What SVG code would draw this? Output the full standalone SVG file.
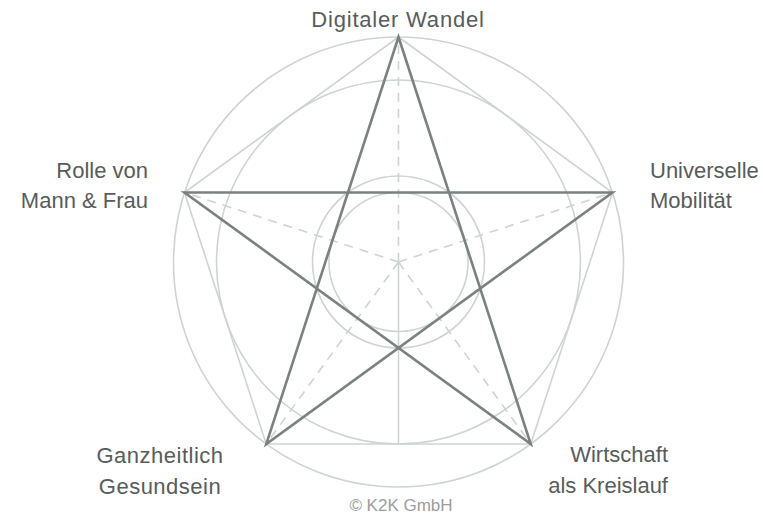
<svg xmlns="http://www.w3.org/2000/svg" width="763" height="517" viewBox="0 0 763 517">
<style>
.guide{fill:none;stroke:#cfd3d3;stroke-width:1.6}
.dash{fill:none;stroke:#cfd3d3;stroke-width:1.6;stroke-dasharray:9 7}
.star{fill:none;stroke:#7b8181;stroke-width:2.6;stroke-linejoin:miter}
.lbl{font-family:"Liberation Sans",Arial,sans-serif;font-size:22px;fill:#575c5c}
.copy{font-family:"Liberation Sans",Arial,sans-serif;font-size:17px;fill:#9a9e9e}
</style>
<rect width="763" height="517" fill="#ffffff"/>
<g id="connectors">
<circle class="guide" cx="398.5" cy="262" r="225"/>
<circle class="guide" cx="398.5" cy="262" r="182"/>
<circle class="guide" cx="398.5" cy="262" r="86"/>
<circle class="guide" cx="398.5" cy="262" r="69.5"/>
<polygon class="guide" points="398.5,37 612.5,192.5 530.75,444 266.25,444 184.5,192.5"/>
<line class="guide" x1="398.5" y1="262" x2="398.5" y2="444"/>
<line class="dash" x1="398.5" y1="262" x2="398.5" y2="37"/>
<line class="dash" x1="398.5" y1="262" x2="612.5" y2="192.5"/>
<line class="dash" x1="398.5" y1="262" x2="184.5" y2="192.5"/>
<line class="dash" x1="398.5" y1="262" x2="530.75" y2="444"/>
<line class="dash" x1="398.5" y1="262" x2="266.25" y2="444"/>
<polygon class="star" points="398.5,37 530.75,444 184.5,192.5 612.5,192.5 266.25,444"/>
</g>
<g id="n-digital"><text class="lbl" x="398" y="27" text-anchor="middle" letter-spacing="0.8">Digitaler Wandel</text></g>
<g id="n-mobil"><text class="lbl" x="650" y="178">Universelle</text><text class="lbl" x="650" y="208">Mobilität</text></g>
<g id="n-rolle"><text class="lbl" x="148" y="178" text-anchor="end">Rolle von</text><text class="lbl" x="148" y="208" text-anchor="end">Mann &amp; Frau</text></g>
<g id="n-gesund"><text class="lbl" x="160" y="463" text-anchor="middle" letter-spacing="0.5">Ganzheitlich</text><text class="lbl" x="160" y="494" text-anchor="middle" letter-spacing="0.5">Gesundsein</text></g>
<g id="n-wirtschaft"><text class="lbl" x="668" y="462" text-anchor="end">Wirtschaft</text><text class="lbl" x="668" y="493" text-anchor="end">als Kreislauf</text></g>
<g id="copyright"><text class="copy" x="401" y="511" text-anchor="middle">© K2K GmbH</text></g>
</svg>
